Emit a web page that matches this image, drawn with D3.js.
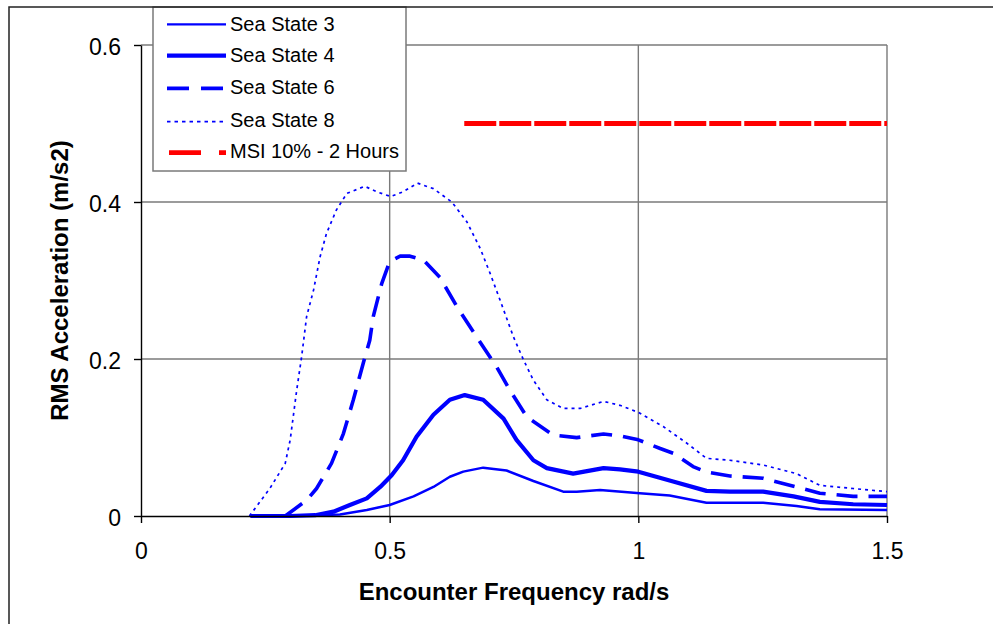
<!DOCTYPE html>
<html>
<head>
<meta charset="utf-8">
<script src="https://cdn.jsdelivr.net/npm/d3@7"></script>
<style>
  body { margin: 0; background: #fff; }
  svg { display: block; font-family: "Liberation Sans", Arial, sans-serif; }
</style>
</head>
<body>
<div class="chart"></div>
<script>
// series values
var ss3Freq = [0.22, 0.30, 0.40, 0.454, 0.50, 0.548, 0.588, 0.621, 0.648, 0.688, 0.735, 0.789, 0.849, 0.876, 0.923, 1.003, 1.063, 1.137, 1.251, 1.318, 1.365, 1.5]
var ss3Acc = [0, 0, 0.002, 0.0076, 0.014, 0.025, 0.037, 0.05, 0.0565, 0.0616, 0.058, 0.0446, 0.031, 0.031, 0.033, 0.029, 0.026, 0.017, 0.017, 0.0127, 0.0085, 0.0076]

var ss4Freq = [0.22, 0.30, 0.35, 0.387, 0.42, 0.454, 0.481, 0.504, 0.527, 0.554, 0.588, 0.621, 0.651, 0.688, 0.729, 0.755, 0.789, 0.816, 0.869, 0.93, 0.963, 1.0, 1.07, 1.137, 1.184, 1.251, 1.312, 1.365, 1.432, 1.5]
var ss4Acc = [0, 0, 0.001, 0.0055, 0.014, 0.0225, 0.037, 0.052, 0.071, 0.101, 0.129, 0.148, 0.154, 0.148, 0.124, 0.097, 0.071, 0.061, 0.054, 0.061, 0.0595, 0.0565, 0.044, 0.032, 0.031, 0.031, 0.025, 0.018, 0.015, 0.014]

var ss6Freq = [0.29, 0.333, 0.353, 0.383, 0.407, 0.427, 0.447, 0.46, 0.467, 0.484, 0.50, 0.521, 0.541, 0.568, 0.601, 0.635, 0.675, 0.715, 0.742, 0.776, 0.829, 0.876, 0.93, 0.963, 1.0, 1.044, 1.07, 1.11, 1.137, 1.184, 1.251, 1.318, 1.365, 1.432, 1.5]
var ss6Acc = [0, 0.02, 0.035, 0.067, 0.105, 0.148, 0.195, 0.224, 0.254, 0.296, 0.324, 0.331, 0.331, 0.326, 0.304, 0.267, 0.228, 0.19, 0.16, 0.126, 0.103, 0.0998, 0.1045, 0.102, 0.097, 0.086, 0.08, 0.063, 0.056, 0.051, 0.048, 0.037, 0.029, 0.025, 0.025]

var ss8Freq = [0.218, 0.259, 0.29, 0.30, 0.313, 0.323, 0.333, 0.347, 0.36, 0.373, 0.393, 0.414, 0.45, 0.474, 0.502, 0.527, 0.556, 0.588, 0.625, 0.655, 0.682, 0.702, 0.722, 0.749, 0.769, 0.789, 0.816, 0.849, 0.883, 0.93, 0.963, 1.0, 1.05, 1.097, 1.137, 1.184, 1.251, 1.318, 1.365, 1.432, 1.5]
var ss8Acc = [0, 0.035, 0.067, 0.097, 0.16, 0.203, 0.254, 0.288, 0.33, 0.36, 0.39, 0.411, 0.42, 0.413, 0.407, 0.413, 0.424, 0.417, 0.40, 0.375, 0.341, 0.309, 0.275, 0.228, 0.199, 0.173, 0.148, 0.137, 0.137, 0.146, 0.141, 0.132, 0.114, 0.093, 0.0735, 0.071, 0.065, 0.054, 0.039, 0.035, 0.031]

var msiFreq = [0.65, 1.5]
var msiAcc = [0.5, 0.5]

var seriesNames = ['Sea State 3', 'Sea State 4', 'Sea State 6', 'Sea State 8', 'MSI 10% - 2 Hours']
var xTicks = [0, 0.5, 1, 1.5]
var yTicks = [0, 0.2, 0.4, 0.6]

var width = 993, height = 624
var plot = {left: 141, right: 887, top: 45, bottom: 516}

var svg = d3.select('.chart').append('svg')
    .attr('width', width)
    .attr('height', height)

var x = d3.scaleLinear().domain([0, 1.5]).range([plot.left, plot.right])
var y = d3.scaleLinear().domain([0, 0.6]).range([plot.bottom, plot.top])

// gridlines
svg.append('g').selectAll('line')
  .data(yTicks.slice(1))
  .enter().append('line')
  .attr('x1', plot.left).attr('x2', plot.right)
  .attr('y1', function(d) { return y(d) }).attr('y2', function(d) { return y(d) })
  .attr('stroke', '#7a7a7a').attr('stroke-width', 1.4)

svg.append('g').selectAll('line')
  .data(xTicks.slice(1))
  .enter().append('line')
  .attr('x1', function(d) { return x(d) }).attr('x2', function(d) { return x(d) })
  .attr('y1', plot.top).attr('y2', plot.bottom)
  .attr('stroke', '#7a7a7a').attr('stroke-width', 1.4)

var zip = function(xs, ys) { return xs.map(function(v, i) { return [v, ys[i]] }) }

var series = [
  {data: zip(ss3Freq, ss3Acc), color: '#0000ff', w: 2.5, lw: 2.2, dash: null, legendDash: null},
  {data: zip(ss4Freq, ss4Acc), color: '#0000ff', w: 4.2, lw: 4.2, dash: null, legendDash: null},
  {data: zip(ss6Freq, ss6Acc), color: '#0000ff', w: 3.6, lw: 3.8, dash: '21,11', legendDash: '22,12'},
  {data: zip(ss8Freq, ss8Acc), color: '#0000ff', w: 1.7, lw: 1.7, dash: '3,4', legendDash: '3.5,4'},
  {data: zip(msiFreq, msiAcc), color: '#ff0000', w: 4.8, lw: 4.8, dash: '32,3', legendDash: '32,18'}
]

var line = d3.line()
    .x(function(d) { return x(d[0]) })
    .y(function(d) { return y(d[1]) })

svg.append('g').selectAll('path')
  .data(series)
  .enter().append('path')
  .attr('d', function(d) { return line(d.data) })
  .attr('fill', 'none')
  .attr('stroke', function(d) { return d.color })
  .attr('stroke-width', function(d) { return d.w })
  .attr('stroke-dasharray', function(d) { return d.dash })
  .attr('stroke-linejoin', 'round')

// axes
var yAxis = svg.append('g')
  .attr('transform', 'translate(' + plot.left + ',0)')
  .call(d3.axisLeft(y).tickValues(yTicks).tickFormat(function(d) { return String(d) })
    .tickSize(7).tickSizeOuter(0).tickPadding(13))
var xAxis = svg.append('g')
  .attr('transform', 'translate(0,' + plot.bottom + ')')
  .call(d3.axisBottom(x).tickValues(xTicks).tickFormat(function(d) { return String(d) })
    .tickSize(7).tickSizeOuter(0).tickPadding(20))

;[xAxis, yAxis].forEach(function(g) {
  g.select('.domain').attr('stroke', '#000').attr('stroke-width', 1.4)
  g.selectAll('.tick line').attr('stroke', '#000').attr('stroke-width', 1.4)
  g.selectAll('.tick text').attr('fill', '#000')
    .style('font-size', '23px').style('font-family', '"Liberation Sans", Arial, sans-serif')
})
yAxis.selectAll('.tick text').attr('dy', '0.4em')

// axis titles
svg.append('text')
  .attr('x', (plot.left + plot.right) / 2)
  .attr('y', 600)
  .attr('text-anchor', 'middle')
  .style('font-size', '24px').style('font-weight', 'bold')
  .text('Encounter Frequency rad/s')

svg.append('text')
  .attr('transform', 'translate(68,' + ((plot.top + plot.bottom) / 2) + ') rotate(-90)')
  .attr('text-anchor', 'middle')
  .style('font-size', '24px').style('font-weight', 'bold')
  .text('RMS Acceleration (m/s2)')

// legend
var legend = svg.append('g')
legend.append('rect')
  .attr('x', 153).attr('y', 7).attr('width', 253).attr('height', 164)
  .attr('fill', '#fff').attr('stroke', '#7a7a7a').attr('stroke-width', 1.5)

var rowY = [24.3, 55.7, 88.3, 121.7, 152.7]
var rowBase = [31, 61.5, 94, 127, 158]

legend.selectAll('line.key')
  .data(series)
  .enter().append('line')
  .attr('class', 'key')
  .attr('x1', function(d, i) { return i === 4 ? 169 : 167 })
  .attr('x2', 226)
  .attr('y1', function(d, i) { return rowY[i] }).attr('y2', function(d, i) { return rowY[i] })
  .attr('stroke', function(d) { return d.color })
  .attr('stroke-width', function(d) { return d.lw })
  .attr('stroke-dasharray', function(d) { return d.legendDash })

legend.selectAll('text')
  .data(seriesNames)
  .enter().append('text')
  .attr('x', 230)
  .attr('y', function(d, i) { return rowBase[i] })
  .style('font-size', '20px')
  .text(function(d) { return d })

// outer frame
svg.append('rect')
  .attr('x', 9).attr('y', 7).attr('width', 1200).attr('height', 800)
  .attr('fill', 'none').attr('stroke', '#222').attr('stroke-width', 1.5)
</script>
</body>
</html>
